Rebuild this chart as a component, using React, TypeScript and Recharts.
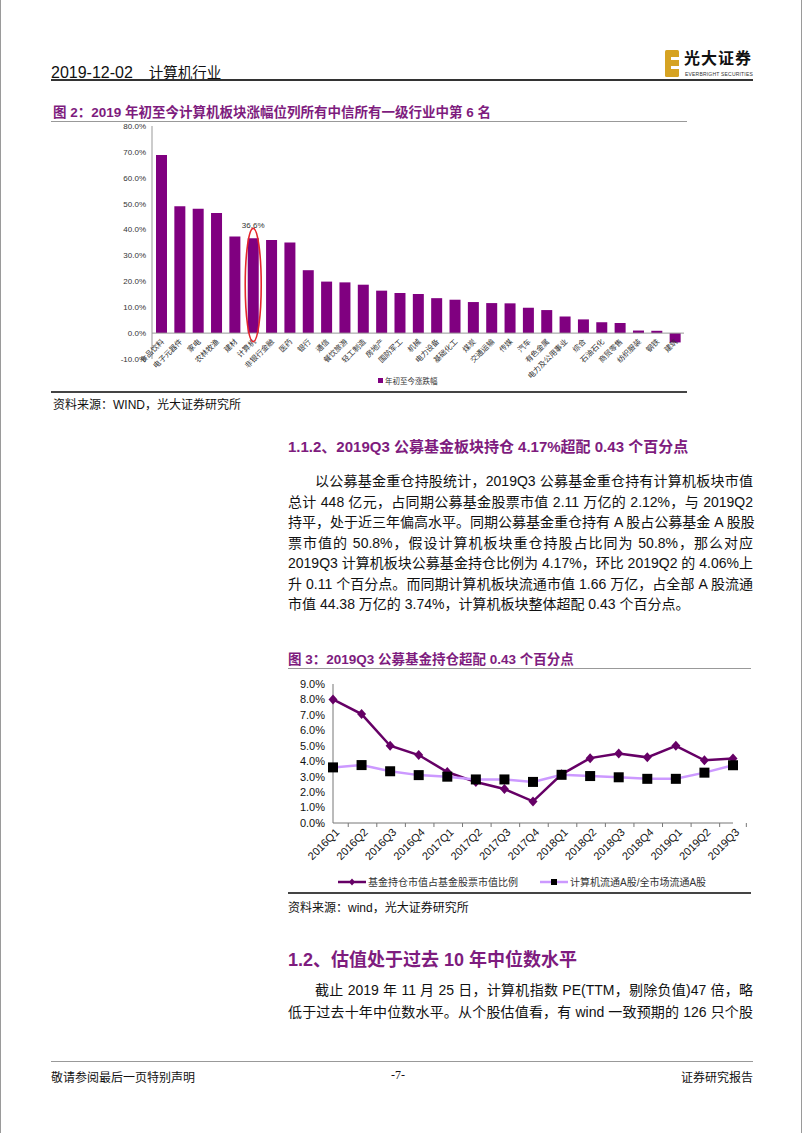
import React from "react";
import {
  BarChart,
  Bar,
  XAxis,
  YAxis,
  ReferenceLine,
  LabelList,
  Legend,
  LineChart,
  Line,
} from "recharts";

// 图2：2019年初至今中信一级行业涨跌幅
const industries = [
  "食品饮料", "电子元器件", "家电", "农林牧渔", "建材", "计算机", "非银行金融", "医药",
  "银行", "通信", "餐饮旅游", "轻工制造", "房地产", "国防军工", "机械", "电力设备",
  "基础化工", "煤炭", "交通运输", "传媒", "汽车", "有色金属", "电力及公用事业", "综合",
  "石油石化", "商贸零售", "纺织服装", "钢铁", "建筑",
];
const ytdChange = [
  68.8, 49.0, 48.0, 46.4, 37.3, 36.6, 36.0, 35.0,
  24.3, 19.9, 19.6, 18.7, 16.4, 15.5, 15.1, 13.5,
  12.9, 12.0, 11.6, 11.5, 9.8, 8.9, 6.4, 5.3,
  4.2, 3.9, 1.0, 0.9, -3.6,
];
const barTicks = [-10, 0, 10, 20, 30, 40, 50, 60, 70, 80];
const highlighted = "计算机";

// 图3：公募基金持仓 vs 流通市值占比
const quarters = [
  "2016Q1", "2016Q2", "2016Q3", "2016Q4", "2017Q1", "2017Q2", "2017Q3", "2017Q4",
  "2018Q1", "2018Q2", "2018Q3", "2018Q4", "2019Q1", "2019Q2", "2019Q3",
];
const fundHolding = [8.0, 7.05, 5.0, 4.4, 3.3, 2.65, 2.2, 1.4, 3.15, 4.2, 4.5, 4.25, 5.0, 4.06, 4.17];
const marketShare = [3.6, 3.75, 3.35, 3.1, 3.0, 2.82, 2.82, 2.66, 3.12, 3.04, 2.96, 2.86, 2.86, 3.26, 3.74];
const lineTicks = [0, 1, 2, 3, 4, 5, 6, 7, 8, 9];

const PURPLE = "#800080";
const TITLE_PURPLE = "#7E1C7E";
const DARK_LINE = "#660066";
const LIGHT_LINE = "#CC99FF";
const SANS = '"Liberation Sans", "Noto Sans CJK SC", sans-serif';
const SERIF = '"Liberation Serif", "Noto Sans CJK SC", serif';

const barData = industries.map((name, i) => ({ name, value: ytdChange[i] }));
const lineData = quarters.map((q, i) => ({ q, fund: fundHolding[i], market: marketShare[i] }));

const BAR_W = 700;
const BAR_H = 290;
const BAR_MARGIN = { top: 4, right: 67, bottom: 53, left: 61 };

const LINE_W = 470;
const LINE_H = 225;
const LINE_MARGIN = { top: 14, right: 18, bottom: 12, left: 12 };
const LINE_Y_W = 40;
const QUARTER_BAND =
  (LINE_W - LINE_MARGIN.left - LINE_MARGIN.right - LINE_Y_W) / quarters.length;

function CategoryLabel(props: any) {
  const { x, y, width, height, value, index } = props;
  let zero = y + height;
  if (ytdChange[index] < 0 && height > 0) zero = y;
  const tx = x + width / 2 + 3;
  const ty = zero + 9;
  return (
    <text
      x={tx}
      y={ty}
      transform={`rotate(-45 ${tx} ${ty})`}
      textAnchor="end"
      fontSize={7.5}
      fill="#333"
      fontFamily={SANS}
    >
      {value}
    </text>
  );
}

function HighlightMark(props: any) {
  const { x, y, width, height, index } = props;
  if (industries[index] !== highlighted) return null;
  const cx = x + width / 2;
  const top = y - 10;
  const bottom = y + height + 8.5;
  return (
    <g>
      <text x={cx} y={y - 10} textAnchor="middle" fontSize={8} fill="#333" fontFamily={SANS}>
        {ytdChange[index].toFixed(1)}%
      </text>
      <ellipse
        cx={cx}
        cy={(top + bottom) / 2}
        rx={width / 2 + 2.5}
        ry={(bottom - top) / 2}
        fill="none"
        stroke="#E4262B"
        strokeWidth={1.6}
      />
    </g>
  );
}

function BarLegend() {
  return (
    <div style={{ display: "flex", alignItems: "center", fontSize: 7.5, color: "#333", fontFamily: SANS }}>
      <span style={{ width: 5, height: 5, background: PURPLE, display: "inline-block", marginRight: 2 }} />
      年初至今涨跌幅
    </div>
  );
}

function QuarterTick(props: any) {
  const { x, y, payload, index } = props;
  const tx = x + 7;
  const ty = y + 10;
  return (
    <g>
      <line x1={x - QUARTER_BAND / 2} x2={x - QUARTER_BAND / 2} y1={y} y2={y + 4} stroke="#777" />
      {index === quarters.length - 1 && (
        <line x1={x + QUARTER_BAND / 2} x2={x + QUARTER_BAND / 2} y1={y} y2={y + 4} stroke="#777" />
      )}
      <text
        x={tx}
        y={ty}
        transform={`rotate(-45 ${tx} ${ty})`}
        textAnchor="end"
        fontSize={11}
        fill="#111"
        fontFamily={SANS}
      >
        {payload.value}
      </text>
    </g>
  );
}

const Diamond = (props: any) => {
  const { cx, cy } = props;
  return <path d={`M${cx},${cy - 5}L${cx + 4.5},${cy}L${cx},${cy + 5}L${cx - 4.5},${cy}Z`} fill={DARK_LINE} />;
};

const Square = (props: any) => {
  const { cx, cy } = props;
  return <rect x={cx - 5} y={cy - 5} width={10} height={10} fill="#000" />;
};

function LineLegend() {
  const item = (color: string, marker: React.ReactNode, label: string, gap: number) => (
    <div style={{ display: "flex", alignItems: "center", marginRight: gap }}>
      <svg width={28} height={10} style={{ marginRight: 2 }}>
        <line x1={0} x2={28} y1={5} y2={5} stroke={color} strokeWidth={2.5} />
        {marker}
      </svg>
      <span>{label}</span>
    </div>
  );
  return (
    <div style={{ display: "flex", fontSize: 10, color: "#333", fontFamily: SANS }}>
      {item(DARK_LINE, <path d="M14,1.5L17,5L14,8.5L11,5Z" fill={DARK_LINE} />, "基金持仓市值占基金股票市值比例", 22)}
      {item(LIGHT_LINE, <rect x={11} y={2} width={6} height={6} fill="#000" />, "计算机流通A股/全市场流通A股", 0)}
    </div>
  );
}

const abs = (left: number, top: number, extra: React.CSSProperties = {}): React.CSSProperties => ({
  position: "absolute",
  left,
  top,
  ...extra,
});

const para1 = [
  "以公募基金重仓持股统计，2019Q3 公募基金重仓持有计算机板块市值",
  "总计 448 亿元，占同期公募基金股票市值 2.11 万亿的 2.12%，与 2019Q2",
  "持平，处于近三年偏高水平。同期公募基金重仓持有 A 股占公募基金 A 股股",
  "票市值的 50.8%，假设计算机板块重仓持股占比同为 50.8%，那么对应",
  "2019Q3 计算机板块公募基金持仓比例为 4.17%，环比 2019Q2 的 4.06%上",
  "升 0.11 个百分点。而同期计算机板块流通市值 1.66 万亿，占全部 A 股流通",
  "市值 44.38 万亿的 3.74%，计算机板块整体超配 0.43 个百分点。",
];
const para2 = [
  "截止 2019 年 11 月 25 日，计算机指数 PE(TTM，剔除负值)47 倍，略",
  "低于过去十年中位数水平。从个股估值看，有 wind 一致预期的 126 只个股",
];

function Paragraph({ lines, top, step, lastJustify }: { lines: string[]; top: number; step: number; lastJustify: boolean }) {
  return (
    <>
      {lines.map((t, i) => {
        const justify = i < lines.length - 1 || lastJustify;
        return (
          <div
            key={i}
            style={abs(287, top + i * step, {
              width: 465,
              height: 20,
              lineHeight: "20px",
              fontSize: 14,
              color: "#111",
              textAlign: justify ? "justify" : "left",
              textAlignLast: justify ? "justify" : "left",
              textIndent: i === 0 ? 27 : 0,
              whiteSpace: "nowrap",
              fontFamily: SANS,
            })}
          >
            {t}
          </div>
        );
      })}
    </>
  );
}

export default function App() {
  return (
    <div style={{ position: "absolute", left: 0, top: 0, width: 802, height: 1133, background: "#fff", overflow: "hidden", fontFamily: SANS, boxSizing: "border-box", borderLeft: "1px solid #9a9a9a", borderRight: "1px solid #9a9a9a" }}>
      {/* header */}
      <div style={abs(50, 61, { fontSize: 16, color: "#111", whiteSpace: "nowrap" })}>
        2019-12-02<span style={{ marginLeft: 16, fontSize: 14.5 }}>计算机行业</span>
      </div>
      <svg style={abs(664, 50)} width={16} height={28}>
        <rect x={0} y={0} width={14} height={27} rx={1.5} fill="#D6A323" />
        <rect x={6} y={7} width={8} height={3} fill="#fff" />
        <rect x={6} y={16} width={8} height={3} fill="#fff" />
      </svg>
      <div style={abs(683, 50, { fontSize: 16, lineHeight: "18px", fontWeight: 700, color: "#111", letterSpacing: 1, whiteSpace: "nowrap", fontFamily: SERIF })}>光大证券</div>
      <div style={abs(684, 71, { fontSize: 5, lineHeight: "6px", color: "#333", whiteSpace: "nowrap", letterSpacing: 0.2 })}>EVERBRIGHT SECURITIES</div>
      <div style={abs(50, 79, { width: 702, height: 2, background: "#333" })} />

      {/* figure 2 */}
      <div style={abs(52, 101, { fontSize: 13.5, fontWeight: 700, color: TITLE_PURPLE, whiteSpace: "nowrap" })}>
        图 2：2019 年初至今计算机板块涨幅位列所有中信所有一级行业中第 6 名
      </div>
      <div style={abs(50, 121, { width: 636, height: 1, background: "#999" })} />
      <div style={abs(50, 122)}>
        <BarChart width={BAR_W} height={BAR_H} data={barData} margin={BAR_MARGIN}>
          <XAxis dataKey="name" hide />
          <YAxis
            width={40}
            domain={[-10, 80]}
            ticks={barTicks}
            interval={0}
            tickFormatter={(v: number) => `${v.toFixed(1)}%`}
            tick={{ fontSize: 8, fill: "#333", fontFamily: SANS }}
            tickLine={false}
            tickSize={0}
            tickMargin={6}
            axisLine={{ stroke: "#999" }}
          />
          <ReferenceLine y={0} stroke="#999" />
          <Bar dataKey="value" name="年初至今涨跌幅" fill={PURPLE} barSize={11} isAnimationActive={false}>
            <LabelList dataKey="name" content={CategoryLabel} />
            <LabelList dataKey="value" content={HighlightMark} />
          </Bar>
          <Legend
            layout="vertical"
            align="center"
            verticalAlign="middle"
            wrapperStyle={{ left: 327, top: 253, width: 100 }}
            content={BarLegend}
          />
        </BarChart>
      </div>
      <div style={abs(50, 391, { width: 636, height: 2, background: "#444" })} />
      <div style={abs(52, 395, { fontSize: 12, color: "#111", whiteSpace: "nowrap" })}>资料来源：WIND，光大证券研究所</div>

      {/* section 1.1.2 */}
      <div style={abs(287, 435, { fontSize: 15, fontWeight: 700, color: TITLE_PURPLE, whiteSpace: "nowrap" })}>
        1.1.2、2019Q3 公募基金板块持仓 4.17%超配 0.43 个百分点
      </div>
      <Paragraph lines={para1} top={471} step={20.5} lastJustify={false} />

      {/* figure 3 */}
      <div style={abs(287, 648, { fontSize: 13.5, fontWeight: 700, color: TITLE_PURPLE, whiteSpace: "nowrap" })}>
        图 3：2019Q3 公募基金持仓超配 0.43 个百分点
      </div>
      <div style={abs(287, 668, { width: 463, height: 1, background: "#999" })} />
      <div style={abs(280, 670)}>
        <LineChart width={LINE_W} height={LINE_H} data={lineData} margin={LINE_MARGIN}>
          <XAxis
            dataKey="q"
            height={60}
            interval={0}
            tick={QuarterTick}
            tickLine={false}
            tickSize={0}
            tickMargin={0}
            axisLine={{ stroke: "#777" }}
          />
          <YAxis
            width={LINE_Y_W}
            domain={[0, 9]}
            ticks={lineTicks}
            interval={0}
            tickFormatter={(v: number) => `${v.toFixed(1)}%`}
            tick={{ fontSize: 11, fill: "#111", fontFamily: SANS }}
            tickLine={false}
            tickSize={0}
            tickMargin={8}
            axisLine={{ stroke: "#777" }}
          />
          <Line
            type="linear"
            dataKey="fund"
            name="基金持仓市值占基金股票市值比例"
            stroke={DARK_LINE}
            strokeWidth={2.5}
            dot={Diamond}
            activeDot={false}
            isAnimationActive={false}
          />
          <Line
            type="linear"
            dataKey="market"
            name="计算机流通A股/全市场流通A股"
            stroke={LIGHT_LINE}
            strokeWidth={2.5}
            dot={Square}
            activeDot={false}
            isAnimationActive={false}
          />
          <Legend
            layout="vertical"
            align="center"
            verticalAlign="middle"
            wrapperStyle={{ left: 57, top: 204, width: 420 }}
            content={LineLegend}
          />
        </LineChart>
      </div>
      <div style={abs(287, 892, { width: 463, height: 2, background: "#444" })} />
      <div style={abs(287, 898, { fontSize: 12, color: "#111", whiteSpace: "nowrap" })}>资料来源：wind，光大证券研究所</div>

      {/* section 1.2 */}
      <div style={abs(287, 945, { fontSize: 18, fontWeight: 700, color: TITLE_PURPLE, whiteSpace: "nowrap" })}>
        1.2、估值处于过去 10 年中位数水平
      </div>
      <Paragraph lines={para2} top={980} step={22} lastJustify={true} />

      {/* footer */}
      <div style={abs(50, 1061, { width: 702, height: 1, background: "#999" })} />
      <div style={abs(50, 1068, { fontSize: 12, color: "#111", whiteSpace: "nowrap", fontFamily: SERIF })}>敬请参阅最后一页特别声明</div>
      <div style={abs(390, 1068, { fontSize: 12, color: "#111", fontFamily: SERIF })}>-7-</div>
      <div style={abs(640, 1068, { width: 112, textAlign: "right", fontSize: 12, color: "#111", whiteSpace: "nowrap", fontFamily: SERIF })}>证券研究报告</div>
    </div>
  );
}
